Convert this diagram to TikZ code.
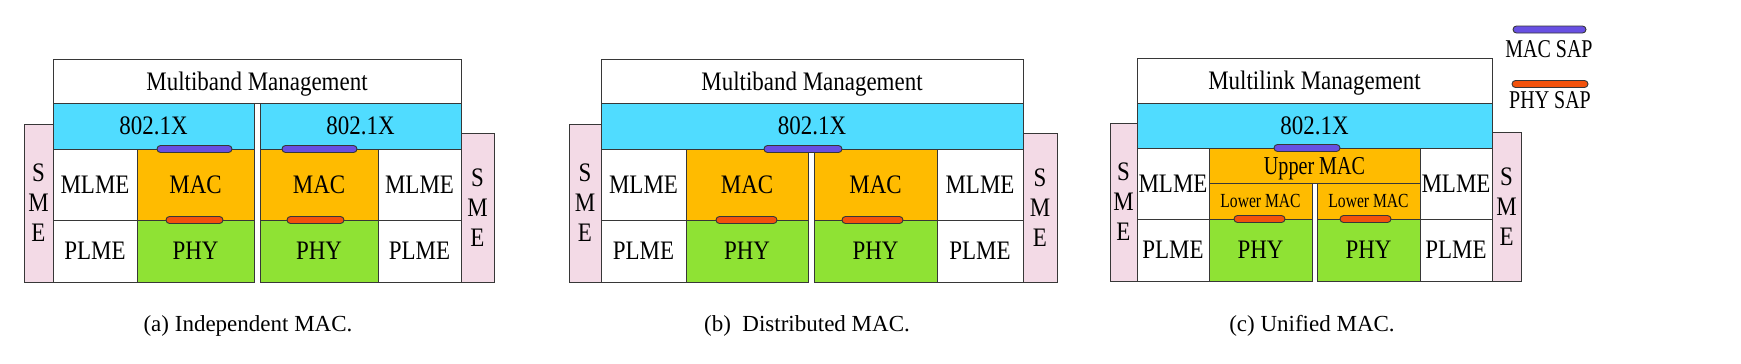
\documentclass[tikz,border=0pt]{standalone}
\usepackage{fontspec}
\setmainfont{Liberation Serif}
\newfontfamily\boxfont[FakeStretch=0.86]{Liberation Serif}
\newfontfamily\narrowfont[FakeStretch=0.78]{Liberation Serif}
\usetikzlibrary{positioning}
\definecolor{ink}{RGB}{55,55,55}
\definecolor{dotxFill}{RGB}{80,220,255}
\definecolor{macFill}{RGB}{255,187,0}
\definecolor{phyFill}{RGB}{143,226,52}
\definecolor{smeFill}{RGB}{243,218,230}
\definecolor{macSapFill}{RGB}{104,80,226}
\definecolor{phySapFill}{RGB}{242,82,12}
\tikzset{
  nodebox/.style={
    draw=ink,
    line width=1pt,
    inner sep=0pt,
    align=center,
    text depth=0pt,
    font=\boxfont\fontsize{26.7}{30}\selectfont,
    fill=white
  },
  mgmtNode/.style={nodebox},
  dotxNode/.style={nodebox, fill=dotxFill},
  meNode/.style={nodebox},
  macNode/.style={nodebox, fill=macFill},
  lowerNode/.style={nodebox, fill=macFill, font=\narrowfont\fontsize{20}{24}\selectfont},
  upperNode/.style={nodebox, fill=macFill, font=\narrowfont\fontsize{25.8}{30}\selectfont},
  phyNode/.style={nodebox, fill=phyFill},
  smeNode/.style={nodebox, fill=smeFill},
  sapNode/.style={
    draw=ink,
    line width=0.9pt,
    rounded corners=3.5pt,
    minimum height=7pt,
    inner sep=0pt
  },
  macSap/.style={sapNode, fill=macSapFill},
  phySap/.style={sapNode, fill=phySapFill},
  caption/.style={font=\fontsize{23}{28}\selectfont, inner sep=0pt},
  legendText/.style={font=\narrowfont\fontsize{25.6}{30}\selectfont, inner sep=0pt}
}

\begin{document}
\begin{tikzpicture}[x=1pt, y=-1pt]
  \useasboundingbox (0,0) rectangle (1741,364);

  % (a) independent MAC
  \node[smeNode, minimum width=29pt, minimum height=158pt] (smeA1) at (38.5,203) {S\\M\\E};
  \node[smeNode, minimum width=33pt, minimum height=149pt] (smeA2) at (477.5,207.5) {S\\M\\E};
  \node[mgmtNode, minimum width=408pt, minimum height=44pt] (mgmtA) at (257,81) {Multiband Management};
  \node[dotxNode, minimum width=201pt, minimum height=46pt] (dotxA1) at (153.5,126) {802.1X};
  \node[dotxNode, minimum width=201pt, minimum height=46pt] (dotxA2) at (360.5,126) {802.1X};
  \node[meNode, minimum width=84pt, minimum height=71pt] (mlmeA1) at (95,184.5) {MLME};
  \node[macNode, minimum width=117pt, minimum height=71pt] (macA1) at (195.5,184.5) {MAC};
  \node[meNode, minimum width=84pt, minimum height=62pt] (plmeA1) at (95,251) {PLME};
  \node[phyNode, minimum width=117pt, minimum height=62pt] (phyA1) at (195.5,251) {PHY};
  \node[macNode, minimum width=118pt, minimum height=71pt] (macA2) at (319,184.5) {MAC};
  \node[meNode, minimum width=83pt, minimum height=71pt] (mlmeA2) at (419.5,184.5) {MLME};
  \node[phyNode, minimum width=118pt, minimum height=62pt] (phyA2) at (319,251) {PHY};
  \node[meNode, minimum width=83pt, minimum height=62pt] (plmeA2) at (419.5,251) {PLME};
  \node[macSap, minimum width=75pt] (macSapA1) at (194.5,149) {};
  \node[phySap, minimum width=57pt] (phySapA1) at (194.5,220) {};
  \node[macSap, minimum width=75pt] (macSapA2) at (319.5,149) {};
  \node[phySap, minimum width=57pt] (phySapA2) at (315.5,220) {};
  \node[caption] (capA) at (248,326) {(a) Independent MAC.};

  % (b) distributed MAC
  \node[smeNode, minimum width=32pt, minimum height=158pt] (smeB1) at (585,203) {S\\M\\E};
  \node[smeNode, minimum width=34pt, minimum height=149pt] (smeB2) at (1040,207.5) {S\\M\\E};
  \node[mgmtNode, minimum width=422pt, minimum height=44pt] (mgmtB) at (812,81) {Multiband Management};
  \node[dotxNode, minimum width=422pt, minimum height=46pt] (dotxB) at (812,126) {802.1X};
  \node[meNode, minimum width=85pt, minimum height=71pt] (mlmeB1) at (643.5,184.5) {MLME};
  \node[macNode, minimum width=122pt, minimum height=71pt] (macB1) at (747,184.5) {MAC};
  \node[macNode, minimum width=123pt, minimum height=71pt] (macB2) at (875.5,184.5) {MAC};
  \node[meNode, minimum width=86pt, minimum height=71pt] (mlmeB2) at (980,184.5) {MLME};
  \node[meNode, minimum width=85pt, minimum height=62pt] (plmeB1) at (643.5,251) {PLME};
  \node[phyNode, minimum width=122pt, minimum height=62pt] (phyB1) at (747,251) {PHY};
  \node[phyNode, minimum width=123pt, minimum height=62pt] (phyB2) at (875.5,251) {PHY};
  \node[meNode, minimum width=86pt, minimum height=62pt] (plmeB2) at (980,251) {PLME};
  \node[macSap, minimum width=78pt] (macSapB) at (803,149) {};
  \node[phySap, minimum width=61pt] (phySapB1) at (746.5,220) {};
  \node[phySap, minimum width=61pt] (phySapB2) at (872.5,220) {};
  \node[caption] (capB) at (807,326) {(b)\ \ Distributed MAC.};

  % (c) unified MAC
  \node[smeNode, minimum width=27pt, minimum height=158pt] (smeC1) at (1123.5,202) {S\\M\\E};
  \node[smeNode, minimum width=29pt, minimum height=149pt] (smeC2) at (1506.5,206.5) {S\\M\\E};
  \node[mgmtNode, minimum width=355pt, minimum height=45pt] (mgmtC) at (1314.5,80.5) {Multilink Management};
  \node[dotxNode, minimum width=355pt, minimum height=45pt] (dotxC) at (1314.5,125.5) {802.1X};
  \node[meNode, minimum width=72pt, minimum height=71pt] (mlmeC1) at (1173,183.5) {MLME};
  \node[upperNode, minimum width=211pt, minimum height=35pt] (upperC) at (1314.5,165.5) {Upper MAC};
  \node[lowerNode, minimum width=103pt, minimum height=36pt] (lowerC1) at (1260.5,201) {Lower MAC};
  \node[lowerNode, minimum width=103pt, minimum height=36pt] (lowerC2) at (1368.5,201) {Lower MAC};
  \node[meNode, minimum width=72pt, minimum height=71pt] (mlmeC2) at (1456,183.5) {MLME};
  \node[meNode, minimum width=72pt, minimum height=62pt] (plmeC1) at (1173,250) {PLME};
  \node[phyNode, minimum width=103pt, minimum height=62pt] (phyC1) at (1260.5,250) {PHY};
  \node[phyNode, minimum width=103pt, minimum height=62pt] (phyC2) at (1368.5,250) {PHY};
  \node[meNode, minimum width=72pt, minimum height=62pt] (plmeC2) at (1456,250) {PLME};
  \node[macSap, minimum width=66pt] (macSapC) at (1307,148) {};
  \node[phySap, minimum width=51pt] (phySapC1) at (1259.5,219) {};
  \node[phySap, minimum width=51pt] (phySapC2) at (1365.5,219) {};
  \node[caption] (capC) at (1312,326) {(c) Unified MAC.};

  % legend
  \node[macSap, minimum width=73pt] (keyMac) at (1549.5,29.5) {};
  \node[legendText] (keyMacText) at (1549,49) {MAC SAP};
  \node[phySap, minimum width=76pt] (keyPhy) at (1550,84) {};
  \node[legendText] (keyPhyText) at (1550,100.5) {PHY SAP};
\end{tikzpicture}
\end{document}
